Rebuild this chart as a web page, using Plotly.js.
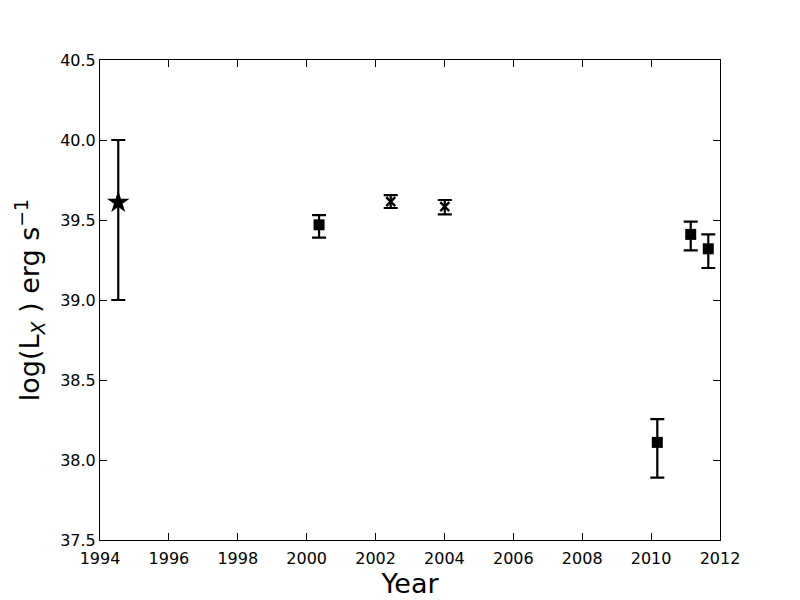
<!DOCTYPE html>
<html>
<head>
<meta charset="utf-8">
<script src="https://cdn.plot.ly/plotly-3.0.1.min.js"></script>
<style>
  html, body { margin: 0; padding: 0; background: #fff; }
  #chart { width: 800px; height: 600px; }
</style>
</head>
<body>
<div id="chart"></div>
<script>
// observations: year, log(Lx), upper / lower error
const starYear = [1994.53];
const starLx = [39.61];
const starErrUp = [0.39];
const starErrDown = [0.61];

const squareYear = [2000.36, 2010.18, 2011.15, 2011.66];
const squareLx = [39.47, 38.11, 39.41, 39.32];
const squareErrUp = [0.06, 0.145, 0.08, 0.09];
const squareErrDown = [0.08, 0.22, 0.10, 0.12];

const crossYear = [2002.44, 2004.01];
const crossLx = [39.615, 39.583];
const crossErrUp = [0.04, 0.042];
const crossErrDown = [0.04, 0.048];

function errBars(up, down) {
  return {
    type: "data",
    symmetric: false,
    array: up,
    arrayminus: down,
    color: "black",
    thickness: 2.2,
    width: 7,
  };
}

const data = [
  {
    x: starYear,
    y: starLx,
    mode: "markers",
    type: "scatter",
    marker: { symbol: "star", size: 17, color: "black" },
    error_y: errBars(starErrUp, starErrDown),
  },
  {
    x: squareYear,
    y: squareLx,
    mode: "markers",
    type: "scatter",
    marker: { symbol: "square", size: 11, color: "black" },
    error_y: errBars(squareErrUp, squareErrDown),
  },
  {
    x: crossYear,
    y: crossLx,
    mode: "markers",
    type: "scatter",
    marker: {
      symbol: "x-thin",
      size: 9,
      color: "black",
      line: { color: "black", width: 2.5 },
    },
    error_y: errBars(crossErrUp, crossErrDown),
  },
];

const axisStyle = {
  showgrid: false,
  zeroline: false,
  showline: true,
  linecolor: "black",
  linewidth: 1,
  mirror: "ticks",
  ticks: "inside",
  ticklen: 7,
  tickcolor: "black",
  tickfont: { family: "DejaVu Sans", size: 16, color: "black" },
};

const layout = {
  width: 800,
  height: 600,
  showlegend: false,
  paper_bgcolor: "white",
  plot_bgcolor: "white",
  margin: { l: 100, r: 80, t: 60, b: 60 },
  xaxis: {
    ...axisStyle,
    range: [1994, 2012],
    dtick: 2,
    tick0: 1994,
    ticklabelstandoff: 4,
    title: { text: "Year", font: { family: "DejaVu Sans", size: 27, color: "black" }, standoff: 2 },
  },
  yaxis: {
    ...axisStyle,
    range: [37.5, 40.5],
    dtick: 0.5,
    tick0: 37.5,
    tickformat: ".1f",
    title: {
      text: "log(L<sub><i>X</i></sub> ) erg s<sup>−1</sup>",
      font: { family: "DejaVu Sans", size: 27, color: "black" },
      standoff: 12,
    },
  },
};

Plotly.newPlot("chart", data, layout, { displayModeBar: false });
</script>
</body>
</html>
